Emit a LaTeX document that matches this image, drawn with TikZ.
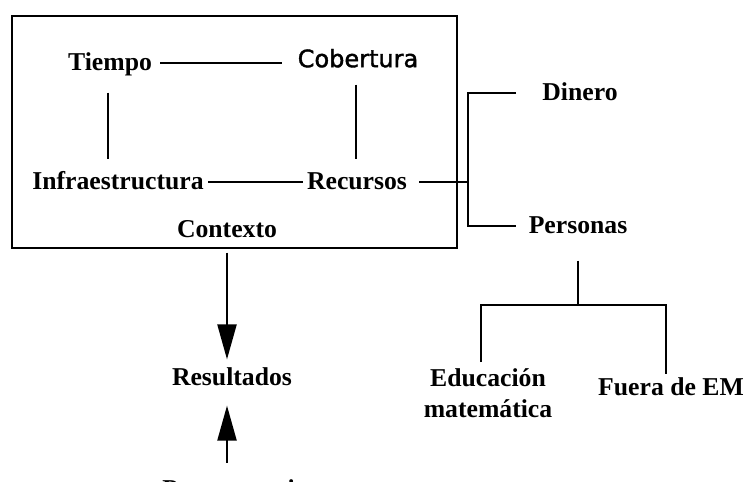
\documentclass[tikz,border=0pt]{standalone}
\usepackage{fontspec}
\setmainfont{Liberation Serif}
\newfontfamily\cobfont[FakeBold=1.6]{DejaVu Sans}
\usetikzlibrary{arrows.meta}

\tikzset{
	lbl/.style={font=\fontsize{12.85}{15.5}\selectfont\bfseries, inner sep=4pt, text height=8.7pt, text depth=1.5pt},
	cob/.style={font=\fontsize{12}{14}\selectfont\cobfont, inner sep=4pt, text height=8.7pt, text depth=1.5pt},
	wire/.style={line width=1.1pt},
	bigarrow/.style={wire, -{Triangle[length=17.5pt,width=9.5pt]}}
}

\begin{document}
\begin{tikzpicture}[x=0.5pt,y=-0.5pt]
	% page as large as the reference
	\clip (0,0) rectangle (745,482);
	% the framed block
	\draw[line width=1.2pt] (12,16) rectangle (457,248);
	\node[lbl] (tiempo) at (110,63) {Tiempo};
	\node[cob] (cobertura) at (358,60) {Cobertura};
	\node[lbl] (infra) at (118,182) {Infraestructura};
	\node[lbl] (recursos) at (357,182) {Recursos};
	\node[lbl] (contexto) at (227,230) {Contexto};
	\draw[wire, shorten >=3.75pt] (tiempo.east) -- (tiempo.east -| cobertura.west);
	\draw[wire, shorten <=5.5pt, shorten >=2pt] ([xshift=-1pt]tiempo.south) -- ([xshift=-1pt]tiempo.south |- infra.north);
	\draw[wire, shorten <=3pt, shorten >=2pt] ([xshift=-1pt]cobertura.south) -- ([xshift=-1pt]cobertura.south |- recursos.north);
	\draw[wire, shorten <=-2pt, shorten >=-2pt] (infra.east) -- (recursos.west);
	% recursos: dinero and personas
	\node[lbl] (dinero) at (580,93) {Dinero};
	\node[lbl] (personas) at (578,226) {Personas};
	\coordinate (junc) at (468,182);
	\draw[wire, shorten <=2pt] (recursos.east) -- (recursos.east -| junc);
	\draw[wire] ([xshift=-9pt]dinero.west) -| (junc) |- ([xshift=-2pt]personas.west);
	% personas: the two branches
	\node[font=\fontsize{12.85}{15.5}\selectfont\bfseries, align=center, inner sep=4pt, anchor=north] (educ) at (488,360) {Educación\\matemática};
	\node[lbl] (fuera) at (671,388) {Fuera de EM};
	\coordinate (split) at (577,305);
	\draw[wire, shorten <=8pt] (personas.south) -- (personas.south |- split);
	\draw[wire, shorten <=-1pt, shorten >=-2.3pt] ([xshift=-3.5pt]educ.north) |- (split) -| ([xshift=-2.5pt]fuera.north);
	% results
	\node[lbl] (resultados) at (232,378) {Resultados};
	\node[lbl, anchor=base west] (presup) at (154,497) {Preconcepciones};
	\draw[bigarrow, shorten <=2pt] (contexto.south) -- (contexto.south |- resultados.north);
	\draw[bigarrow, shorten <=4.3pt, shorten >=4.5pt] (contexto.south |- presup.north) -- (contexto.south |- resultados.south);
\end{tikzpicture}
\end{document}
